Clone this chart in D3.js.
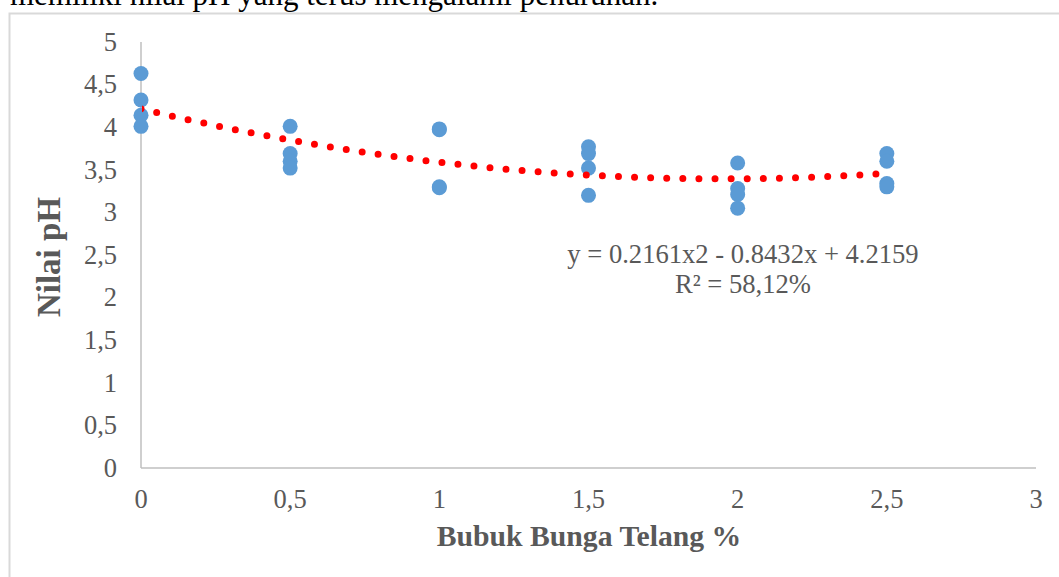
<!DOCTYPE html>
<html>
<head>
<meta charset="utf-8">
<script src="https://cdn.jsdelivr.net/npm/d3@7"></script>
<style>
  body { margin: 0; background: #fff; }
  text { font-family: "Liberation Serif", "Times New Roman", serif; }
</style>
</head>
<body>
<div id="chart"></div>
<script>
// pH readings per level of bubuk bunga telang (%)
const dose = [0, 0, 0, 0, 0.5, 0.5, 0.5, 0.5, 1, 1, 1, 1, 1.5, 1.5, 1.5, 1.5, 2, 2, 2, 2, 2.5, 2.5, 2.5, 2.5];
const ph = [4.63, 4.32, 4.14, 4.01, 4.01, 3.69, 3.60, 3.52, 3.98, 3.97, 3.30, 3.29, 3.77, 3.69, 3.52, 3.20, 3.58, 3.28, 3.21, 3.05, 3.69, 3.60, 3.34, 3.30];

// polynomial trendline as printed on the chart: c0 + c1 x + c2 x^2
const trendCoef = [4.2159, -0.8432, 0.2161];
const trendRange = [0, 2.5];

const xTicks = [0, 0.5, 1, 1.5, 2, 2.5, 3];
const yTicks = [0, 0.5, 1, 1.5, 2, 2.5, 3, 3.5, 4, 4.5, 5];

const width = 1059, height = 577;
const fmt = d => String(d).replace(".", ",");

const svg = d3.select("#chart").append("svg")
  .attr("width", width)
  .attr("height", height);

// page text cut off above the chart
svg.append("text")
  .attr("x", 10)
  .attr("y", 5)
  .attr("font-size", 31)
  .attr("fill", "#000")
  .text("memiliki nilai pH yang terus mengalami penurunan.");

// chart frame
svg.append("rect")
  .attr("x", 9.5).attr("y", 13.5)
  .attr("width", 1200).attr("height", 700)
  .attr("fill", "#fff")
  .attr("stroke", "#D9D9D9")
  .attr("stroke-width", 2);

const x = d3.scaleLinear().domain([0, 3]).range([141, 1036]);
const y = d3.scaleLinear().domain([0, 5]).range([468, 42]);

// axes lines
svg.append("line")
  .attr("x1", x(0)).attr("x2", x(0))
  .attr("y1", y(5)).attr("y2", y(0))
  .attr("stroke", "#BFBFBF").attr("stroke-width", 1.5);
svg.append("line")
  .attr("x1", x(0)).attr("x2", x(3))
  .attr("y1", y(0)).attr("y2", y(0))
  .attr("stroke", "#BFBFBF").attr("stroke-width", 1.5);

// tick labels
svg.append("g")
  .selectAll("text")
  .data(yTicks)
  .join("text")
  .attr("x", 117)
  .attr("y", d => y(d))
  .attr("dy", "0.33em")
  .attr("text-anchor", "end")
  .attr("font-size", 26.5)
  .attr("fill", "#595959")
  .text(fmt);

svg.append("g")
  .selectAll("text")
  .data(xTicks)
  .join("text")
  .attr("x", d => x(d))
  .attr("y", 508)
  .attr("text-anchor", "middle")
  .attr("font-size", 26.5)
  .attr("fill", "#595959")
  .text(fmt);

// points
svg.append("g")
  .selectAll("circle")
  .data(dose.map((d, i) => [d, ph[i]]))
  .join("circle")
  .attr("cx", d => x(d[0]))
  .attr("cy", d => y(d[1]))
  .attr("r", 7.5)
  .attr("fill", "#5B9BD5");

// dotted trendline, clipped to the plot area
svg.append("clipPath").attr("id", "plot")
  .append("rect")
  .attr("x", x(0) + 1).attr("y", y(5))
  .attr("width", x(3) - x(0)).attr("height", y(0) - y(5));

const trendX = d3.range(trendRange[0], trendRange[1] + 0.0001, 0.01);
const trend = d3.line()
  .x(d => x(d))
  .y(d => y(trendCoef[0] + trendCoef[1] * d + trendCoef[2] * d * d));

svg.append("path")
  .datum(trendX)
  .attr("d", trend)
  .attr("clip-path", "url(#plot)")
  .attr("fill", "none")
  .attr("stroke", "#FF0000")
  .attr("stroke-width", 7)
  .attr("stroke-linecap", "round")
  .attr("stroke-dasharray", "0 16.1");

// equation label
const eq = svg.append("text")
  .attr("text-anchor", "middle")
  .attr("font-size", 26.6)
  .attr("fill", "#595959");
eq.append("tspan").attr("x", 743).attr("y", 263).text("y = 0.2161x2 - 0.8432x + 4.2159");
eq.append("tspan").attr("x", 743).attr("y", 293).text("R² = 58,12%");

// axis titles
svg.append("text")
  .attr("x", 589)
  .attr("y", 546)
  .attr("text-anchor", "middle")
  .attr("font-size", 29.7)
  .attr("font-weight", "bold")
  .attr("fill", "#595959")
  .text("Bubuk Bunga Telang %");

svg.append("text")
  .attr("transform", "translate(60,257) rotate(-90)")
  .attr("text-anchor", "middle")
  .attr("font-size", 33)
  .attr("font-weight", "bold")
  .attr("fill", "#595959")
  .text("Nilai pH");
</script>
</body>
</html>
